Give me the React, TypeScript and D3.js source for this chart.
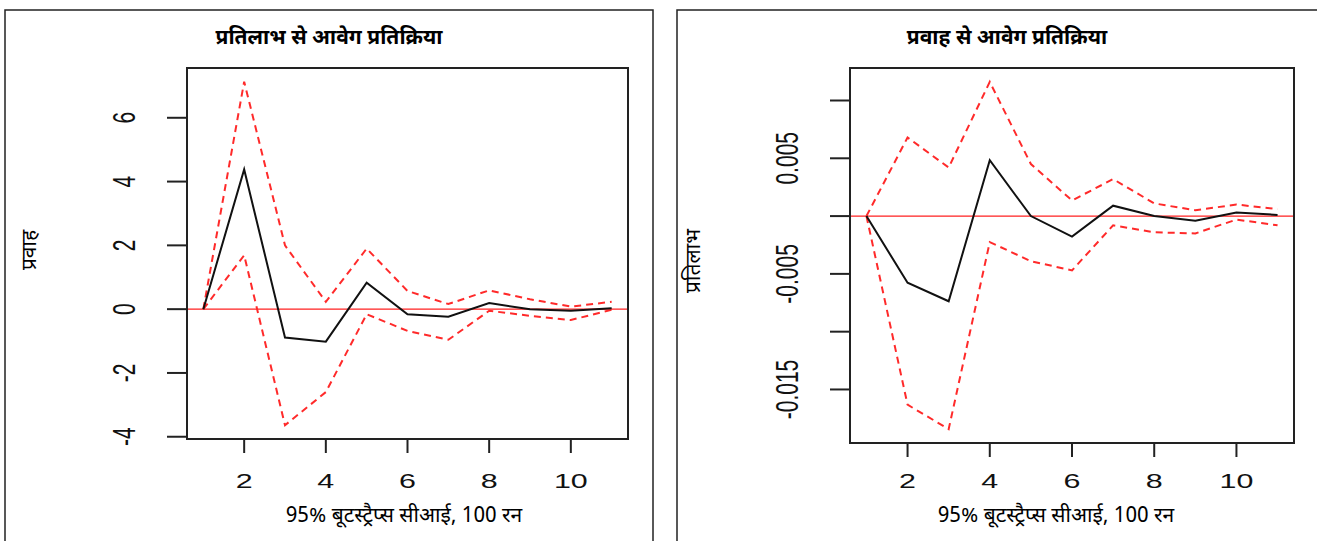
import React from 'react';
import * as d3 from 'd3';

// horizons 1..11
const steps = [1, 2, 3, 4, 5, 6, 7, 8, 9, 10, 11];

// impulse: returns -> flow
const flowIrf = [0, 4.38, -0.89, -1.02, 0.83, -0.16, -0.24, 0.19, 0.0, -0.05, 0.03];
const flowUpper = [0, 7.13, 2.0, 0.23, 1.9, 0.57, 0.16, 0.59, 0.31, 0.08, 0.23];
const flowLower = [0, 1.69, -3.64, -2.6, -0.16, -0.68, -0.96, -0.05, -0.21, -0.34, -0.02];

// impulse: flow -> returns
const retIrf = [0, -0.00577, -0.00737, 0.00483, 0.0, -0.00178, 0.0009, 0.0, -0.0004, 0.0003, 0.0001];
const retUpper = [0, 0.0068, 0.0042, 0.01161, 0.0045, 0.00135, 0.0032, 0.0011, 0.0005, 0.001, 0.0006];
const retLower = [0, -0.01632, -0.01843, -0.00225, -0.0039, -0.0047, -0.0008, -0.0014, -0.0015, -0.0003, -0.0008];

const xTicks = [2, 4, 6, 8, 10];
const flowTicks = [-4, -2, 0, 2, 4, 6];
const flowTickLabels = ['-4', '-2', '0', '2', '4', '6'];
const retTicks = [-0.015, -0.01, -0.005, 0, 0.005, 0.01];
const retTickLabels = ['-0.015', '', '-0.005', '', '0.005', ''];

const xLabelText = '95% बूटस्ट्रैप्स सीआई, 100 रन';
const deva = "'Noto Sans Devanagari', 'Lohit Devanagari', 'Noto Sans', 'DejaVu Sans', sans-serif";
const num = "'Liberation Sans', Arial, sans-serif";

type PanelProps = {
  frame: [number, number, number, number];
  box: [number, number, number, number];
  title: string;
  yLabel: string;
  yLabelPos: [number, number];
  xLabelX: number;
  irf: number[];
  upper: number[];
  lower: number[];
  yTicks: number[];
  yTickLabels: string[];
};

function Panel(p: PanelProps) {
  const [fx, fy, fw, fh] = p.frame;
  const [left, top, right, bottom] = p.box;
  const x = d3.scaleLinear().domain([0.6, 11.4]).range([left, right]);
  const all = [...p.irf, ...p.upper, ...p.lower];
  const lo = d3.min(all) as number;
  const hi = d3.max(all) as number;
  const pad = (hi - lo) * 0.04;
  const y = d3.scaleLinear().domain([lo - pad, hi + pad]).range([bottom, top]);
  const line = d3
    .line<number>()
    .x((_, i) => x(steps[i]))
    .y((d) => y(d));

  return (
    <g>
      <rect x={fx} y={fy} width={fw} height={fh} fill="white" stroke="#222" strokeWidth={1.5} />
      <text x={fx + fw / 2} y={44} textAnchor="middle" fontFamily={deva} fontWeight="bold" fontSize={21} fill="#000">
        {p.title}
      </text>
      <line x1={left} x2={right} y1={y(0)} y2={y(0)} stroke="#ff2020" strokeWidth={1.3} />
      <path d={line(p.upper) || ''} fill="none" stroke="#ff2a2a" strokeWidth={2} strokeDasharray="7,5" />
      <path d={line(p.lower) || ''} fill="none" stroke="#ff2a2a" strokeWidth={2} strokeDasharray="7,5" />
      <path d={line(p.irf) || ''} fill="none" stroke="#111" strokeWidth={2} />
      <rect x={left} y={top} width={right - left} height={bottom - top} fill="none" stroke="#222" strokeWidth={2} />
      {xTicks.map((t) => (
        <g key={'x' + t}>
          <line x1={x(t)} x2={x(t)} y1={bottom} y2={bottom + 14} stroke="#222" strokeWidth={2} />
          <text
            transform={`translate(${x(t)},${488}) scale(1.45,1)`}
            textAnchor="middle"
            fontFamily={num}
            fontSize={21}
            fill="#111"
          >
            {t}
          </text>
        </g>
      ))}
      {p.yTicks.map((t, i) => (
        <g key={'y' + t}>
          <line x1={left - 20} x2={left} y1={y(t)} y2={y(t)} stroke="#222" strokeWidth={2} />
          <text
            transform={`translate(${left - 63},${y(t)}) scale(1.45,1) rotate(-90)`}
            textAnchor="middle"
            dy="0.36em"
            fontFamily={num}
            fontSize={21}
            fill="#111"
          >
            {p.yTickLabels[i]}
          </text>
        </g>
      ))}
      <text x={p.xLabelX} y={522} textAnchor="middle" fontFamily={deva} fontSize={21} fill="#000">
        {xLabelText}
      </text>
      <text
        transform={`translate(${p.yLabelPos[0]},${p.yLabelPos[1]}) rotate(-90)`}
        textAnchor="middle"
        dy="0.35em"
        fontFamily={deva}
        fontSize={21}
        fill="#000"
      >
        {p.yLabel}
      </text>
    </g>
  );
}

export default function App() {
  return (
    <div style={{ position: 'absolute', left: 0, top: 0 }}>
      <svg width={1317} height={541} style={{ display: 'block', background: 'white' }}>
        <Panel
          frame={[5, 10, 648, 560]}
          box={[187, 68, 628, 439]}
          title="प्रतिलाभ से आवेग प्रतिक्रिया"
          yLabel="प्रवाह"
          yLabelPos={[29, 250]}
          xLabelX={404}
          irf={flowIrf}
          upper={flowUpper}
          lower={flowLower}
          yTicks={flowTicks}
          yTickLabels={flowTickLabels}
        />
        <Panel
          frame={[677, 10, 660, 560]}
          box={[850, 68, 1294, 443]}
          title="प्रवाह से आवेग प्रतिक्रिया"
          yLabel="प्रतिलाभ"
          yLabelPos={[693, 261]}
          xLabelX={1056}
          irf={retIrf}
          upper={retUpper}
          lower={retLower}
          yTicks={retTicks}
          yTickLabels={retTickLabels}
        />
      </svg>
    </div>
  );
}
